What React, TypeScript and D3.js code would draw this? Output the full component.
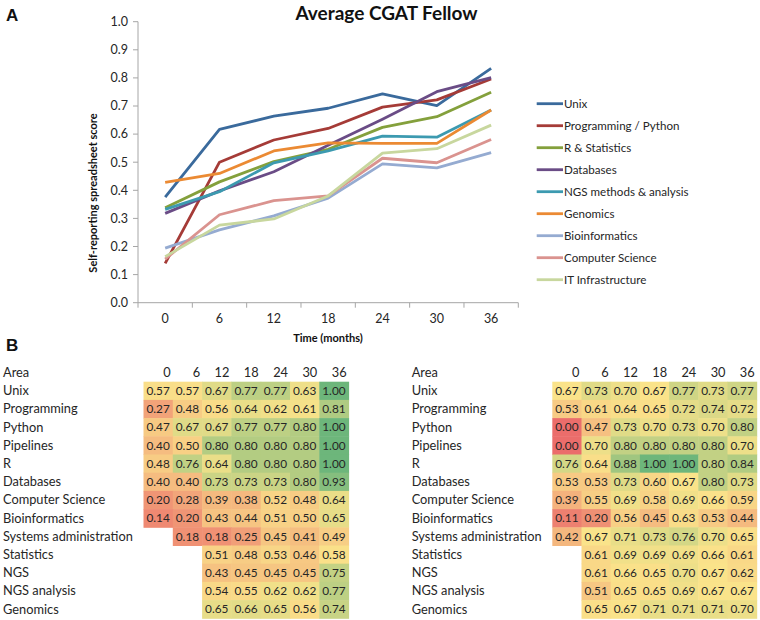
import React from "react";
import * as d3 from "d3";

const months = ["0", "6", "12", "18", "24", "30", "36"];
const yTicks = [0, 0.1, 0.2, 0.3, 0.4, 0.5, 0.6, 0.7, 0.8, 0.9, 1.0];

const seriesNames = [
  "Unix",
  "Programming / Python",
  "R & Statistics",
  "Databases",
  "NGS methods & analysis",
  "Genomics",
  "Bioinformatics",
  "Computer Science",
  "IT Infrastructure",
];
const seriesColors = [
  "#3A6A9C",
  "#A53B37",
  "#84A03C",
  "#6A4C86",
  "#3C9AB0",
  "#EB8A33",
  "#95ABD1",
  "#DA938F",
  "#C8D79E",
];
const unixVals = [0.376, 0.617, 0.664, 0.692, 0.743, 0.701, 0.834];
const progVals = [0.14, 0.5, 0.579, 0.62, 0.696, 0.722, 0.796];
const rstatVals = [0.338, 0.43, 0.502, 0.546, 0.624, 0.662, 0.749];
const dbVals = [0.318, 0.398, 0.466, 0.56, 0.653, 0.751, 0.801];
const ngsVals = [0.332, 0.395, 0.498, 0.54, 0.593, 0.589, 0.686];
const genomicsVals = [0.428, 0.46, 0.54, 0.569, 0.567, 0.567, 0.686];
const bioinfVals = [0.194, 0.259, 0.309, 0.372, 0.494, 0.48, 0.534];
const csVals = [0.155, 0.313, 0.363, 0.38, 0.514, 0.498, 0.581];
const itVals = [0.164, 0.276, 0.298, 0.38, 0.532, 0.548, 0.632];
const seriesValues = [unixVals, progVals, rstatVals, dbVals, ngsVals, genomicsVals, bioinfVals, csVals, itVals];

const areas = [
  "Unix",
  "Programming",
  "Python",
  "Pipelines",
  "R",
  "Databases",
  "Computer Science",
  "Bioinformatics",
  "Systems administration",
  "Statistics",
  "NGS",
  "NGS analysis",
  "Genomics",
];
const N = null;
const leftTable: (number | null)[][] = [
  [0.57, 0.57, 0.67, 0.77, 0.77, 0.63, 1.0],
  [0.27, 0.48, 0.56, 0.64, 0.62, 0.61, 0.81],
  [0.47, 0.67, 0.67, 0.77, 0.77, 0.8, 1.0],
  [0.4, 0.5, 0.8, 0.8, 0.8, 0.8, 1.0],
  [0.48, 0.76, 0.64, 0.8, 0.8, 0.8, 1.0],
  [0.4, 0.4, 0.73, 0.73, 0.73, 0.8, 0.93],
  [0.2, 0.28, 0.39, 0.38, 0.52, 0.48, 0.64],
  [0.14, 0.2, 0.43, 0.44, 0.51, 0.5, 0.65],
  [N, 0.18, 0.18, 0.25, 0.45, 0.41, 0.49],
  [N, N, 0.51, 0.48, 0.53, 0.46, 0.58],
  [N, N, 0.43, 0.45, 0.45, 0.45, 0.75],
  [N, N, 0.54, 0.55, 0.62, 0.62, 0.77],
  [N, N, 0.65, 0.66, 0.65, 0.56, 0.74],
];
const rightTable: (number | null)[][] = [
  [0.67, 0.73, 0.7, 0.67, 0.77, 0.73, 0.77],
  [0.53, 0.61, 0.64, 0.65, 0.72, 0.74, 0.72],
  [0.0, 0.47, 0.73, 0.7, 0.73, 0.7, 0.8],
  [0.0, 0.7, 0.8, 0.8, 0.8, 0.8, 0.7],
  [0.76, 0.64, 0.88, 1.0, 1.0, 0.8, 0.84],
  [0.53, 0.53, 0.73, 0.6, 0.67, 0.8, 0.73],
  [0.39, 0.55, 0.69, 0.58, 0.69, 0.66, 0.59],
  [0.11, 0.2, 0.56, 0.45, 0.63, 0.53, 0.44],
  [0.42, 0.67, 0.71, 0.73, 0.76, 0.7, 0.65],
  [N, 0.61, 0.69, 0.69, 0.69, 0.66, 0.61],
  [N, 0.61, 0.66, 0.65, 0.7, 0.67, 0.62],
  [N, 0.51, 0.65, 0.65, 0.69, 0.67, 0.67],
  [N, 0.65, 0.67, 0.71, 0.71, 0.71, 0.7],
];

const FONT = "Lato, 'Open Sans', sans-serif";
const TXT = "#262626";

function Heatmap({ data, x0, x1, labelX }: { data: (number | null)[][]; x0: number; x1: number; labelX: number }) {
  const xs = d3.scaleBand<string>().domain(months).range([x0, x1]);
  const ys = d3.scaleBand<string>().domain(areas).range([381.7, 618.3]);
  const flat = data.flat().filter((v) => v !== null) as number[];
  const mid = d3.median(flat) as number;
  const color = d3
    .scaleLinear<string>()
    .domain([0, mid, 1])
    .range(["#EB6D6B", "#FAE38A", "#6DB67B"])
    .interpolate(d3.interpolateRgb);
  const bw = xs.bandwidth();
  const bh = ys.bandwidth();
  const headerY = (ys(areas[0]) as number) - bh / 2;
  return (
    <g fontFamily={FONT} fontSize={12.8} fill={TXT}>
      <text x={labelX} y={headerY} dy="0.35em">Area</text>
      {months.map((m) => (
        <text key={m} x={(xs(m) as number) + bw - 2} y={headerY} dy="0.35em" textAnchor="end">
          {m}
        </text>
      ))}
      {areas.map((a, i) => (
        <g key={a}>
          <text x={labelX} y={(ys(a) as number) + bh / 2} dy="0.35em">
            {a}
          </text>
          {data[i].map((v, j) =>
            v === null ? null : (
              <g key={j}>
                <rect
                  x={xs(months[j]) as number}
                  y={ys(a) as number}
                  width={bw + 0.5}
                  height={bh + 0.5}
                  fill={color(v)}
                />
                <text
                  x={(xs(months[j]) as number) + bw / 2}
                  y={(ys(a) as number) + bh / 2}
                  dy="0.35em"
                  textAnchor="middle"
                  fontSize={11.8}
                >
                  {v.toFixed(2)}
                </text>
              </g>
            )
          )}
        </g>
      ))}
    </g>
  );
}

export default function App() {
  const x = d3.scaleBand<string>().domain(months).range([138, 518.3]);
  const y = d3.scaleLinear().domain([0, 1]).range([302.7, 21.7]);
  const step = x.step();
  const line = d3
    .line<number>()
    .x((_, i) => (x(months[i]) as number) + x.bandwidth() / 2)
    .y((d) => y(d));
  const boundaries = d3.range(months.length + 1).map((i) => x.range()[0] + i * step);

  return (
    <svg
      width={760}
      height={620}
      style={{ position: "absolute", left: 0, top: 0, background: "#fff" }}
    >
      <rect width={760} height={620} fill="#fff" />
      {/* Panel A */}
      <text x={6} y={21} fontFamily="'Liberation Sans', Arial, sans-serif" fontWeight="bold" fontSize={17} fill="#111">
        A
      </text>
      <text x={386.5} y={19.5} textAnchor="middle" fontFamily={FONT} fontWeight="bold" fontSize={19} fill="#111">
        Average CGAT Fellow
      </text>
      {/* y axis */}
      <g fontFamily={FONT} fontSize={12.5} fill={TXT}>
        <line x1={138} x2={138} y1={y(1)} y2={y(0)} stroke="#A6A6A6" strokeWidth={1} />
        {yTicks.map((t) => (
          <g key={t}>
            <line x1={133} x2={138} y1={y(t)} y2={y(t)} stroke="#A6A6A6" />
            <text x={128} y={y(t)} dy="0.35em" textAnchor="end">
              {t.toFixed(1)}
            </text>
          </g>
        ))}
        <line x1={138} x2={518.3} y1={y(0)} y2={y(0)} stroke="#A6A6A6" />
        {boundaries.map((b, i) => (
          <line key={i} x1={b} x2={b} y1={y(0)} y2={y(0) + 5} stroke="#A6A6A6" />
        ))}
        {months.map((m) => (
          <text key={m} x={(x(m) as number) + x.bandwidth() / 2} y={319} dy="0.35em" textAnchor="middle">
            {m}
          </text>
        ))}
      </g>
      <text
        transform={`translate(96.5,193) rotate(-90)`}
        textAnchor="middle"
        fontFamily={FONT}
        fontWeight="bold"
        fontSize={11}
        fill="#111"
      >
        Self-reporting spreadsheet score
      </text>
      <text x={328} y={342} textAnchor="middle" fontFamily={FONT} fontWeight="bold" fontSize={11} fill="#111">
        Time (months)
      </text>
      {seriesValues.map((vals, i) => (
        <path
          key={seriesNames[i]}
          d={line(vals) as string}
          fill="none"
          stroke={seriesColors[i]}
          strokeWidth={2.8}
          strokeLinejoin="round"
        />
      ))}
      {/* legend */}
      <g fontFamily={FONT} fontSize={11.6} fill={TXT}>
        {seriesNames.map((n, i) => {
          const ly = 103.7 + i * 22;
          return (
            <g key={n}>
              <line x1={536.7} x2={563} y1={ly} y2={ly} stroke={seriesColors[i]} strokeWidth={2.8} />
              <text x={564} y={ly} dy="0.35em">
                {n}
              </text>
            </g>
          );
        })}
      </g>
      {/* Panel B */}
      <text x={6} y={351} fontFamily="'Liberation Sans', Arial, sans-serif" fontWeight="bold" fontSize={17} fill="#111">
        B
      </text>
      <Heatmap data={leftTable} x0={143.5} x1={348.6} labelX={3} />
      <Heatmap data={rightTable} x0={552.3} x1={756.7} labelX={411.7} />
    </svg>
  );
}
